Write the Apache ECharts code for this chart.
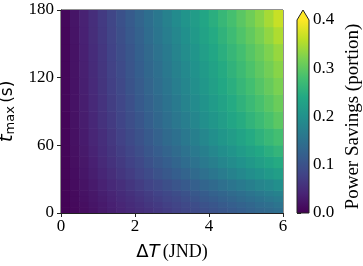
<!DOCTYPE html>
<html><head><meta charset="utf-8">
<script src="https://cdn.jsdelivr.net/npm/echarts@6/dist/echarts.min.js"></script>
<style>html,body{margin:0;padding:0;background:#fff}#c{width:363px;height:266px}</style>
</head><body><div id="c"></div>
<script>
// bin edges of the read-off grid
const deltaTEdges = [0,0.25,0.5,0.75,1,1.25,1.5,1.75,2,2.25,2.5,2.75,3,3.25,3.5,3.75,4,4.25,4.5,4.75,5,5.25,5.5,5.75,6];
const tMaxEdges = [0,5,10,15,20,30,40,50,60,75,90,105,120,135,150,165,180];
// power savings (portion), one row per tMax bin, bottom to top
const s002 = [0.003,0.009,0.015,0.021,0.028,0.034,0.040,0.046,0.052,0.058,0.064,0.070,0.077,0.083,0.089,0.095,0.101,0.107,0.113,0.119,0.126,0.132,0.138,0.144];
const s007 = [0.003,0.010,0.016,0.023,0.029,0.036,0.042,0.049,0.055,0.062,0.068,0.075,0.081,0.088,0.094,0.101,0.107,0.114,0.120,0.127,0.133,0.140,0.146,0.153];
const s012 = [0.004,0.011,0.018,0.025,0.032,0.039,0.046,0.053,0.060,0.067,0.074,0.081,0.088,0.095,0.102,0.109,0.116,0.123,0.130,0.137,0.144,0.151,0.158,0.165];
const s017 = [0.004,0.011,0.019,0.026,0.034,0.041,0.049,0.056,0.064,0.071,0.079,0.086,0.094,0.101,0.109,0.116,0.124,0.131,0.139,0.146,0.154,0.161,0.169,0.176];
const s025 = [0.004,0.013,0.021,0.029,0.038,0.046,0.054,0.063,0.071,0.080,0.088,0.096,0.105,0.113,0.121,0.130,0.138,0.147,0.155,0.163,0.172,0.180,0.188,0.197];
const s035 = [0.005,0.014,0.024,0.033,0.043,0.052,0.062,0.071,0.081,0.090,0.100,0.109,0.119,0.128,0.138,0.147,0.157,0.166,0.176,0.185,0.195,0.204,0.214,0.223];
const s045 = [0.005,0.016,0.026,0.036,0.047,0.057,0.067,0.078,0.088,0.099,0.109,0.119,0.130,0.140,0.150,0.161,0.171,0.182,0.192,0.202,0.213,0.223,0.233,0.244];
const s055 = [0.006,0.017,0.028,0.039,0.050,0.061,0.072,0.083,0.095,0.106,0.117,0.128,0.139,0.150,0.161,0.172,0.184,0.195,0.206,0.217,0.228,0.239,0.250,0.261];
const s067 = [0.006,0.018,0.030,0.042,0.053,0.065,0.077,0.089,0.101,0.113,0.125,0.137,0.148,0.160,0.172,0.184,0.196,0.208,0.220,0.232,0.243,0.255,0.267,0.279];
const s082 = [0.006,0.019,0.032,0.044,0.057,0.069,0.082,0.095,0.107,0.120,0.133,0.145,0.158,0.170,0.183,0.196,0.208,0.221,0.234,0.246,0.259,0.271,0.284,0.297];
const s097 = [0.007,0.020,0.033,0.046,0.059,0.072,0.085,0.098,0.112,0.125,0.138,0.151,0.164,0.177,0.190,0.203,0.217,0.230,0.243,0.256,0.269,0.282,0.295,0.308];
const s112 = [0.007,0.020,0.034,0.048,0.061,0.075,0.088,0.102,0.115,0.129,0.143,0.156,0.170,0.183,0.197,0.210,0.224,0.238,0.251,0.265,0.278,0.292,0.305,0.319];
const s127 = [0.007,0.021,0.035,0.049,0.063,0.077,0.091,0.105,0.119,0.133,0.146,0.160,0.174,0.188,0.202,0.216,0.230,0.244,0.258,0.272,0.286,0.300,0.314,0.328];
const s142 = [0.007,0.021,0.036,0.050,0.064,0.079,0.093,0.107,0.122,0.136,0.150,0.164,0.179,0.193,0.207,0.222,0.236,0.250,0.265,0.279,0.293,0.307,0.322,0.337];
const s157 = [0.007,0.022,0.037,0.052,0.066,0.081,0.096,0.111,0.125,0.140,0.155,0.170,0.184,0.199,0.214,0.229,0.243,0.258,0.273,0.288,0.302,0.318,0.334,0.351];
const s172 = [0.008,0.023,0.038,0.053,0.068,0.083,0.099,0.114,0.129,0.144,0.159,0.175,0.190,0.205,0.220,0.235,0.250,0.266,0.281,0.296,0.311,0.328,0.346,0.366];
const savingsRows = [s002,s007,s012,s017,s025,s035,s045,s055,s067,s082,s097,s112,s127,s142,s157,s172];
const colorbarTicks = [0, 0.1, 0.2, 0.3, 0.4];

const viridis = ['#440154','#482475','#414487','#355f8d','#2a788e','#21918c','#22a884','#44bf70','#7ad151','#bddf26','#fde725'];
const serif = 'Liberation Serif';

// each item: [x0, x1, y0, y1, value] taken from the bin edges
const cells = [];
savingsRows.forEach((row, j) => row.forEach((v, i) =>
  cells.push([deltaTEdges[i], deltaTEdges[i + 1], tMaxEdges[j], tMaxEdges[j + 1], v])));

const chart = echarts.init(document.getElementById('c'), null, {renderer: 'canvas'});
const axisCommon = {
  axisLine: {show: true, lineStyle: {color: '#222', width: 1}},
  axisTick: {show: true, length: 4, lineStyle: {color: '#222'}},
  splitLine: {show: false},
  axisLabel: {fontFamily: serif, fontSize: 17, color: '#000'}
};
chart.setOption({
  animation: false,
  grid: [
    {left: 61, top: 10, width: 222, height: 203, show: true, borderColor: '#222', borderWidth: 1,
     backgroundColor: 'transparent', containLabel: false, outerBoundsMode: 'none'},
    {left: 297, top: 20, width: 12, height: 193, containLabel: false, outerBoundsMode: 'none'}
  ],
  xAxis: [
    Object.assign({}, axisCommon, {
      type: 'value', gridIndex: 0, min: 0, max: 6, interval: 2,
      axisLabel: Object.assign({}, axisCommon.axisLabel, {margin: 5}),
      name: '{d|Δ}{i|T} {s|(JND)}', nameLocation: 'middle', nameGap: 30,
      nameTextStyle: {rich: {
        d: {fontFamily: 'DejaVu Sans', fontSize: 18, color: '#000'},
        i: {fontFamily: 'DejaVu Sans', fontStyle: 'italic', fontSize: 18, color: '#000'},
        s: {fontFamily: serif, fontSize: 18, color: '#000'}
      }}
    }),
    {type: 'value', gridIndex: 1, min: 0, max: 1, show: false}
  ],
  yAxis: [
    Object.assign({}, axisCommon, {
      type: 'value', gridIndex: 0, min: 0, max: 180, interval: 60,
      axisLabel: Object.assign({}, axisCommon.axisLabel, {margin: 7}),
      name: '{i|t}{sub|max} {s|(s)}', nameLocation: 'middle', nameGap: 32, nameRotate: 90,
      nameTextStyle: {rich: {
        i: {fontFamily: 'DejaVu Sans', fontStyle: 'italic', fontSize: 20, color: '#000'},
        sub: {fontFamily: 'DejaVu Sans', fontSize: 13, color: '#000', verticalAlign: 'bottom', padding: [8, 0, 0, 0]},
        s: {fontFamily: 'DejaVu Sans', fontSize: 17, color: '#000'}
      }}
    }),
    Object.assign({}, axisCommon, {
      type: 'value', gridIndex: 1, position: 'right', min: colorbarTicks[0], max: colorbarTicks[colorbarTicks.length - 1], interval: 0.1,
      axisLine: {show: false},
      axisLabel: {fontFamily: serif, fontSize: 17, color: '#000', margin: 4, formatter: v => v.toFixed(1)},
      name: 'Power Savings (portion)', nameLocation: 'middle', nameGap: 35, nameRotate: 90,
      nameTextStyle: {fontFamily: serif, fontSize: 19, color: '#000'}
    })
  ],
  visualMap: {
    show: false, type: 'continuous', seriesIndex: 0, dimension: 4,
    min: 0, max: 0.4, inRange: {color: viridis}
  },
  series: [
    {
      type: 'custom', xAxisIndex: 0, yAxisIndex: 0, clip: true, silent: true,
      encode: {x: [0, 1], y: [2, 3]},
      data: cells,
      renderItem: function (params, api) {
        const a = api.coord([api.value(0), api.value(2)]);
        const b = api.coord([api.value(1), api.value(3)]);
        return {type: 'rect', shape: {x: a[0] - 0.3, y: b[1] - 0.3, width: b[0] - a[0] + 0.6, height: a[1] - b[1] + 0.6},
          style: {fill: api.visual('color'), stroke: null}};
      }
    },
    {
      type: 'custom', xAxisIndex: 1, yAxisIndex: 1, silent: true, clip: false,
      data: [[0, 0]],
      renderItem: function (params, api) {
        const lo = api.coord([0, colorbarTicks[0]]);
        const hi = api.coord([1, colorbarTicks[colorbarTicks.length - 1]]);
        const stops = viridis.map((c, i) => ({offset: i / (viridis.length - 1), color: c}));
        const tip = hi[1] - 10;
        return {type: 'group', children: [
          {type: 'rect', shape: {x: lo[0], y: hi[1], width: hi[0] - lo[0], height: lo[1] - hi[1]},
            style: {fill: new echarts.graphic.LinearGradient(0, 1, 0, 0, stops)}},
          {type: 'polygon', shape: {points: [[lo[0], hi[1]], [hi[0], hi[1]], [(lo[0] + hi[0]) / 2, tip]]},
            style: {fill: viridis[viridis.length - 1]}},
          {type: 'polygon', shape: {points: [[lo[0], lo[1]], [lo[0], hi[1]], [(lo[0] + hi[0]) / 2, tip], [hi[0], hi[1]], [hi[0], lo[1]]]},
            style: {fill: null, stroke: '#222', lineWidth: 1}}
        ]};
      }
    }
  ]
});
</script></body></html>
